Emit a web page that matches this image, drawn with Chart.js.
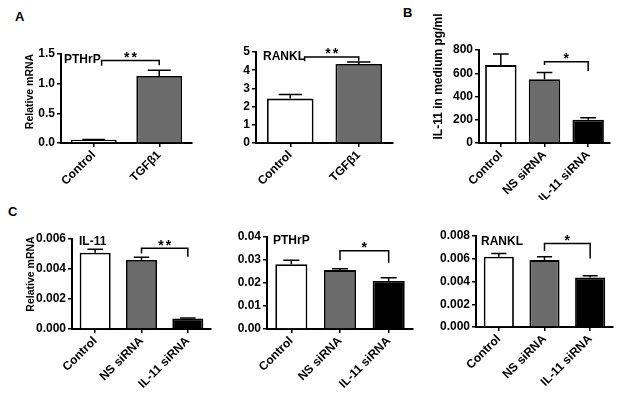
<!DOCTYPE html>
<html>
<head>
<meta charset="utf-8">
<script src="https://cdn.jsdelivr.net/npm/chart.js@4.4.1/dist/chart.umd.min.js"></script>
<style>
  html, body { margin: 0; padding: 0; background: #fff; }
  body { width: 623px; height: 397px; position: relative; overflow: hidden; }
  canvas { position: absolute; }
  .tag { position: absolute; font: bold 13px 'Liberation Sans', Arial, sans-serif; line-height: 13px; color: #000; }
</style>
</head>
<body>
<div class="tag" style="left:15px;top:10px">A</div>
<div class="tag" style="left:403px;top:6px">B</div>
<div class="tag" style="left:8px;top:205px">C</div>
<canvas id="a1"></canvas>
<canvas id="a2"></canvas>
<canvas id="b"></canvas>
<canvas id="c1"></canvas>
<canvas id="c2"></canvas>
<canvas id="c3"></canvas>
<script>
const catsA = ['Control', 'TGFβ1'];
const catsSi = ['Control', 'NS siRNA', 'IL-11 siRNA'];

// A: relative mRNA after TGFβ1
const pthrpA = [0.056, 1.13];
const pthrpAErr = [0.004, 0.095];
const ranklA = [2.44, 4.34];
const ranklAErr = [0.23, 0.11];

// B: IL-11 secreted (pg/ml)
const il11Sec = [670, 549, 200];
const il11SecErr = [95, 57, 17];

// C: relative mRNA after knockdown
const il11C = [0.00509, 0.0046, 0.0007];
const il11CErr = [0.00022, 0.00018, 0.00004];
const pthrpC = [0.0282, 0.0256, 0.0209];
const pthrpCErr = [0.0017, 0.0006, 0.0014];
const ranklC = [0.00617, 0.00588, 0.00436];
const ranklCErr = [0.0003, 0.0003, 0.00015];

// y tick labels as printed
const ticksA1 = ['0.0', '0.5', '1.0', '1.5'];
const ticksA2 = ['0', '1', '2', '3', '4', '5'];
const ticksB = ['0', '200', '400', '600', '800'];
const ticksC1 = ['0.000', '0.002', '0.004', '0.006'];
const ticksC2 = ['0.00', '0.01', '0.02', '0.03', '0.04'];
const ticksC3 = ['0.000', '0.002', '0.004', '0.006', '0.008'];

// brackets: from idx, to idx, top, left foot, right foot, mark
const sigA1 = [0.12, 1, 1.39, 1.30, 1.31, '**'];
const sigA2 = [0.21, 1, 4.73, 4.49, 4.52, '**'];
const sigB = [1, 2, 700, 671, 620, '*'];
const sigC1 = [1, 2, 0.00538, 0.00504, 0.00482, '**'];
const sigC2 = [1, 2, 0.034, 0.0299, 0.0288, '*'];
const sigC3 = [1, 2, 0.00733, 0.00669, 0.00602, '*'];

const fillA = ['#ffffff', '#6b6b6b'];
const fillSi = ['#ffffff', '#6b6b6b', '#000000'];
const FONT = "'Liberation Sans', Arial, sans-serif";

const decor = {
  id: 'decor',
  afterDatasetsDraw(chart, args, o) {
    const { ctx, chartArea, scales: { x, y } } = chart;
    const ds = chart.data.datasets[0];
    ctx.save();
    ctx.strokeStyle = '#000';
    ctx.fillStyle = '#000';
    ctx.lineWidth = 1.5;

    // error bars (upper only)
    chart.getDatasetMeta(0).data.forEach((bar, i) => {
      const yt = y.getPixelForValue(ds.data[i] + ds.err[i]);
      const cap = bar.width * 0.25;
      ctx.beginPath();
      ctx.moveTo(bar.x, bar.y);
      ctx.lineTo(bar.x, yt);
      ctx.moveTo(bar.x - cap, yt);
      ctx.lineTo(bar.x + cap, yt);
      ctx.stroke();
    });

    // significance bracket
    const [a, b, top, fa, fb, mark] = o.sig;
    const xa = x.getPixelForValue(a), xb = x.getPixelForValue(b);
    const yTop = y.getPixelForValue(top);
    ctx.beginPath();
    ctx.moveTo(xa, y.getPixelForValue(fa));
    ctx.lineTo(xa, yTop);
    ctx.lineTo(xb, yTop);
    ctx.lineTo(xb, y.getPixelForValue(fb));
    ctx.stroke();
    ctx.font = 'bold 14px ' + FONT;
    ctx.letterSpacing = '2px';
    ctx.textAlign = 'center';
    ctx.textBaseline = 'alphabetic';
    ctx.fillText(mark, (xa + xb) / 2 + 1, yTop + 1.5);
    ctx.letterSpacing = '0px';

    // gene name inside the plot
    ctx.font = 'bold 12px ' + FONT;
    ctx.textAlign = 'left';
    ctx.textBaseline = 'middle';
    ctx.fillText(o.name, chartArea.left + o.nameDx, chartArea.top + o.nameDy);

    // y title
    if (o.title) {
      ctx.save();
      ctx.font = 'bold ' + o.titleSize + 'px ' + FONT;
      ctx.textAlign = 'center';
      ctx.textBaseline = 'middle';
      ctx.translate(o.titleX, (chartArea.top + chartArea.bottom) / 2 - o.titleShift);
      ctx.rotate(-Math.PI / 2);
      ctx.fillText(o.title, 0, 0);
      ctx.restore();
    }
    ctx.restore();
  }
};

function panel(id, box, opt) {
  const cv = document.getElementById(id);
  cv.width = box.w;
  cv.height = box.h;
  cv.style.left = box.x + 'px';
  cv.style.top = box.y + 'px';
  const tickVals = opt.ticks.map(Number);
  const tickFont = { family: FONT, size: 12, weight: 'bold' };

  new Chart(cv, {
    type: 'bar',
    data: {
      labels: opt.labels,
      datasets: [{
        data: opt.values,
        err: opt.errors,
        backgroundColor: opt.colors,
        borderColor: '#000',
        borderWidth: 1.8,
        barPercentage: opt.barPct,
        categoryPercentage: 1
      }]
    },
    options: {
      responsive: false,
      animation: false,
      events: [],
      layout: {
        padding: { left: 0, top: box.plotTop - box.y, right: box.x + box.w - box.plotRight, bottom: 0 }
      },
      plugins: {
        legend: { display: false },
        tooltip: { enabled: false },
        decor: { sig: opt.sig, name: opt.name, nameDx: opt.nameDx, nameDy: opt.nameDy,
                 title: opt.title, titleSize: opt.titleSize, titleX: opt.titleX, titleShift: opt.titleShift }
      },
      scales: {
        x: {
          offset: true,
          grid: { display: true, offset: false, drawOnChartArea: false, color: '#000', lineWidth: 1.5, tickLength: 4 },
          border: { color: '#000', width: 2 },
          ticks: { color: '#000', font: tickFont, minRotation: 45, maxRotation: 45, autoSkip: false, padding: 1 },
          afterFit: s => { s.height = box.y + box.h - box.plotBottom; }
        },
        y: {
          min: tickVals[0],
          max: tickVals[tickVals.length - 1],
          grid: { display: true, drawOnChartArea: false, color: '#000', lineWidth: 1.5, tickLength: 4 },
          border: { color: '#000', width: 2 },
          ticks: { color: '#000', font: tickFont, padding: 2, callback: (v, i) => opt.ticks[i] },
          afterBuildTicks: s => { s.ticks = tickVals.map(v => ({ value: v })); },
          afterFit: s => { s.width = box.axisX - box.x; }
        }
      }
    },
    plugins: [decor]
  });
}

panel('a1', { x: 0, y: 40, w: 200, h: 155, axisX: 61, plotTop: 54, plotBottom: 143, plotRight: 192 }, {
  labels: catsA, values: pthrpA, errors: pthrpAErr, colors: fillA, barPct: 0.7, ticks: ticksA1,
  sig: sigA1, name: 'PTHrP', nameDx: 3, nameDy: 6,
  title: 'Relative mRNA', titleSize: 10.5, titleX: 30, titleShift: 7
});
panel('a2', { x: 205, y: 40, w: 195, h: 155, axisX: 256, plotTop: 52, plotBottom: 143, plotRight: 393 }, {
  labels: catsA, values: ranklA, errors: ranklAErr, colors: fillA, barPct: 0.68, ticks: ticksA2,
  sig: sigA2, name: 'RANKL', nameDx: 7, nameDy: 5
});
panel('b', { x: 405, y: 10, w: 218, h: 190, axisX: 479, plotTop: 50, plotBottom: 143, plotRight: 610 }, {
  labels: catsSi, values: il11Sec, errors: il11SecErr, colors: fillSi, barPct: 0.72, ticks: ticksB,
  sig: sigB, name: '', nameDx: 0, nameDy: 0,
  title: 'IL-11 in medium pg/ml', titleSize: 12, titleX: 34, titleShift: 20
});
panel('c1', { x: 0, y: 220, w: 212, h: 177, axisX: 72, plotTop: 239, plotBottom: 329, plotRight: 211 }, {
  labels: catsSi, values: il11C, errors: il11CErr, colors: fillSi, barPct: 0.67, ticks: ticksC1,
  sig: sigC1, name: 'IL-11', nameDx: 7, nameDy: 3,
  title: 'Relative mRNA', titleSize: 10.5, titleX: 31, titleShift: 10
});
panel('c2', { x: 212, y: 220, w: 205, h: 177, axisX: 267, plotTop: 237, plotBottom: 329, plotRight: 413 }, {
  labels: catsSi, values: pthrpC, errors: pthrpCErr, colors: fillSi, barPct: 0.66, ticks: ticksC2,
  sig: sigC2, name: 'PTHrP', nameDx: 6, nameDy: 4
});
panel('c3', { x: 417, y: 220, w: 206, h: 177, axisX: 476, plotTop: 236, plotBottom: 327, plotRight: 613 }, {
  labels: catsSi, values: ranklC, errors: ranklCErr, colors: fillSi, barPct: 0.66, ticks: ticksC3,
  sig: sigC3, name: 'RANKL', nameDx: 5, nameDy: 6
});
</script>
</body>
</html>
